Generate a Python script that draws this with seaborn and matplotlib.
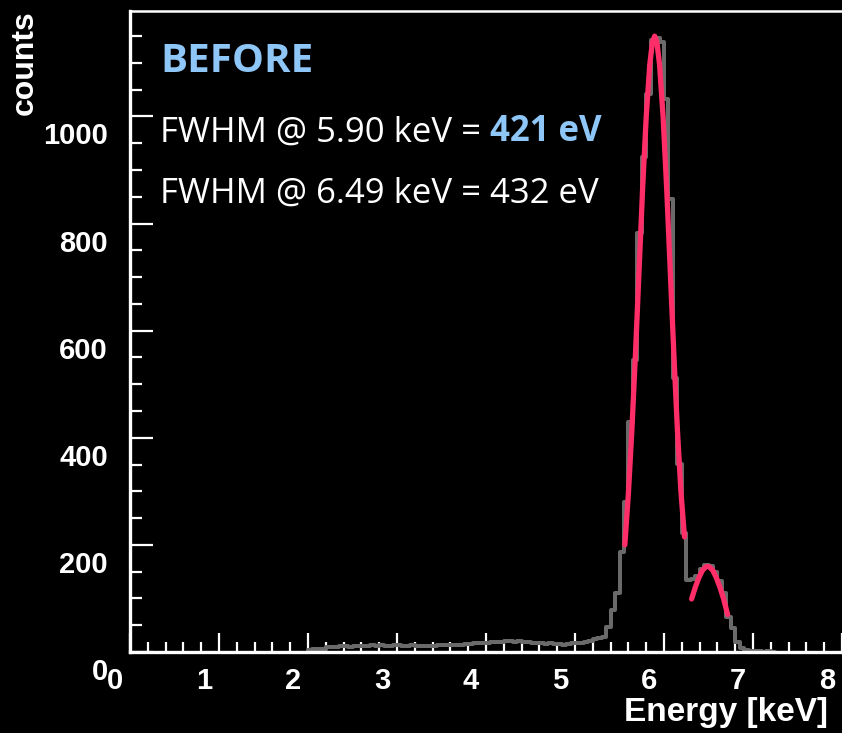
import numpy as np
import pandas as pd
import matplotlib
matplotlib.use("Agg")
import matplotlib.pyplot as plt
from matplotlib.transforms import ScaledTranslation
from matplotlib.ticker import MultipleLocator
import seaborn as sns

# ---------------- data ----------------
bin_width_keV = 0.05
bin_start_keV = 2.00
counts = [
    4, 5, 6, 6,                                   # 2.00-2.20
    9, 10, 10, 11, 11, 10, 11, 12,                # 2.20-2.60
    12, 12, 13, 12, 13, 12, 12, 13,               # 2.60-3.00
    13, 12, 12, 13, 12, 12, 11, 12, 12, 13,       # 3.00-3.50
    13, 14, 14, 13, 14, 15, 15, 16, 16, 17,       # 3.50-4.00
    17, 18, 19, 19, 20, 20, 19, 20, 19, 18,       # 4.00-4.50
    17, 17, 16, 15, 16, 15, 15, 14, 15, 16,       # 4.50-5.00
    16, 17, 18, 20, 24,                           # 5.00-5.25
    26, 28, 47, 79, 111, 186, 280, 430, 545, 783, # 5.25-5.75
    924, 1042, 1143, 1146, 1140, 1033, 845, 511,  # 5.75-6.15
    351, 223, 135, 137, 142, 155, 163, 160, 150,  # 6.15-6.60
    132, 110, 66, 45, 19, 8, 3, 2, 1, 1, 0, 1, 0  # 6.60-7.25
]

fit1_energy = [5.56, 5.60, 5.64, 5.68, 5.72, 5.76, 5.80, 5.84, 5.87, 5.895,
               5.92, 5.95, 5.99, 6.03, 6.07, 6.11, 6.15, 6.19, 6.23]
fit1_counts = [200, 296, 417, 559, 713, 866, 999, 1097, 1139, 1150,
               1139, 1097, 999, 866, 713, 559, 417, 300, 215]

fit2_energy = [6.31, 6.35, 6.39, 6.43, 6.47, 6.49, 6.51, 6.55, 6.59, 6.63, 6.67, 6.715]
fit2_counts = [99, 120, 138, 152, 159, 160, 159, 152, 138, 120, 99, 70]

x_ticks = [0, 1, 2, 3, 4, 5, 6, 7, 8]
y_ticks = [0, 200, 400, 600, 800, 1000]

title_txt = "BEFORE"
line1_txt = "FWHM @ 5.90 keV = "
line1_val = "421 eV"
line2_txt = "FWHM @ 6.49 keV = 432 eV"

# ---------------- style ----------------
sns.set_style("dark")
plt.rcParams.update({
    "figure.facecolor": "black",
    "axes.facecolor": "black",
    "savefig.facecolor": "black",
    "axes.edgecolor": "white",
    "text.color": "white",
    "xtick.color": "white",
    "ytick.color": "white",
    "axes.labelcolor": "white",
})
plt.rcParams["font.family"] = ["Liberation Sans", "DejaVu Sans"]

GRAY = "#6a6a6a"
RED = "#ff2d68"
BLUE = "#8ec6f7"

fig = plt.figure(figsize=(8.42, 7.33), dpi=100)
ax = fig.add_axes([130 / 842, 81 / 733, 712 / 842, 641 / 733])

n = len(counts)
centers = np.round(bin_start_keV + bin_width_keV * (np.arange(n) + 0.5), 4)
hist_df = pd.DataFrame({"energy": centers, "counts": np.asarray(counts, float)})

sns.histplot(data=hist_df, x="energy", weights="counts", binwidth=bin_width_keV,
             binrange=(bin_start_keV, bin_start_keV + n * bin_width_keV),
             element="step", fill=False, color=GRAY, linewidth=2.9, ax=ax, zorder=2)
sns.lineplot(x=fit1_energy, y=fit1_counts, color=RED, linewidth=3.8, ax=ax,
             sort=False, zorder=3)
sns.lineplot(x=fit2_energy, y=fit2_counts, color=RED, linewidth=3.8, ax=ax,
             sort=False, zorder=3)

ax.set_xlim(0, 7.946)
ax.set_ylim(0, 1197)
ax.grid(False)

for side in ["left", "bottom"]:
    ax.spines[side].set_visible(True)
    ax.spines[side].set_color("white")
    ax.spines[side].set_linewidth(2.4)
ax.spines["top"].set_visible(True)
ax.spines["top"].set_color("white")
ax.spines["top"].set_linewidth(1.8)
ax.spines["right"].set_visible(False)

ax.set_xticks(x_ticks)
ax.set_xticklabels([str(v) for v in x_ticks])
ax.set_yticks(y_ticks)
ax.set_yticklabels([str(v) for v in y_ticks])
ax.xaxis.set_minor_locator(MultipleLocator(0.2))
ax.yaxis.set_minor_locator(MultipleLocator(50))

ax.tick_params(axis="x", which="major", direction="in", length=13.5, width=1.6,
               pad=11, labelsize=21, bottom=True, top=False)
ax.tick_params(axis="x", which="minor", direction="in", length=7, width=1.6,
               bottom=True, top=False)
ax.tick_params(axis="y", which="major", direction="in", length=16.5, width=1.6,
               pad=16, labelsize=21, left=True, right=False)
ax.tick_params(axis="y", which="minor", direction="in", length=8.5, width=1.6,
               left=True, right=False)
for lab in ax.get_xticklabels() + ax.get_yticklabels():
    lab.set_fontweight("bold")

ax.set_xlabel("Energy [keV]", fontsize=24, fontweight="bold", loc="right")
ax.set_ylabel("counts", fontsize=23, fontweight="bold", loc="top")
ax.xaxis.set_label_coords((828 - 130) / 712, (652 - 697) / 641)
ax.yaxis.set_label_coords((40 - 130) / 712, (652 - 10) / 641)

tfont = ["Open Sans", "DejaVu Sans"]
ax.text((160 - 130) / 712, (652 - 72) / 641, title_txt, transform=ax.transAxes,
        family=tfont, fontsize=29, fontweight="bold", color=BLUE, va="baseline")
t1 = ax.text((160 - 130) / 712, (652 - 142) / 641, line1_txt, transform=ax.transAxes,
             family=tfont, fontsize=25, color="white", va="baseline")
ax.annotate(line1_val, xy=(1, 0), xycoords=t1, va="bottom", ha="left",
            family=tfont, fontsize=25, fontweight="bold", color=BLUE)
ax.text((160 - 130) / 712, (652 - 203) / 641, line2_txt, transform=ax.transAxes,
        family=tfont, fontsize=25, color="white", va="baseline")

# tick labels in the reference sit shifted from their ticks
fig.canvas.draw()
dx = ScaledTranslation(-15 / 100, 0, fig.dpi_scale_trans)
dy = ScaledTranslation(0, -17 / 100, fig.dpi_scale_trans)
for lab in ax.get_xticklabels():
    lab.set_transform(lab.get_transform() + dx)
for lab in ax.get_yticklabels():
    lab.set_transform(lab.get_transform() + dy)

fig.savefig("out.png", dpi=100, facecolor="black")
